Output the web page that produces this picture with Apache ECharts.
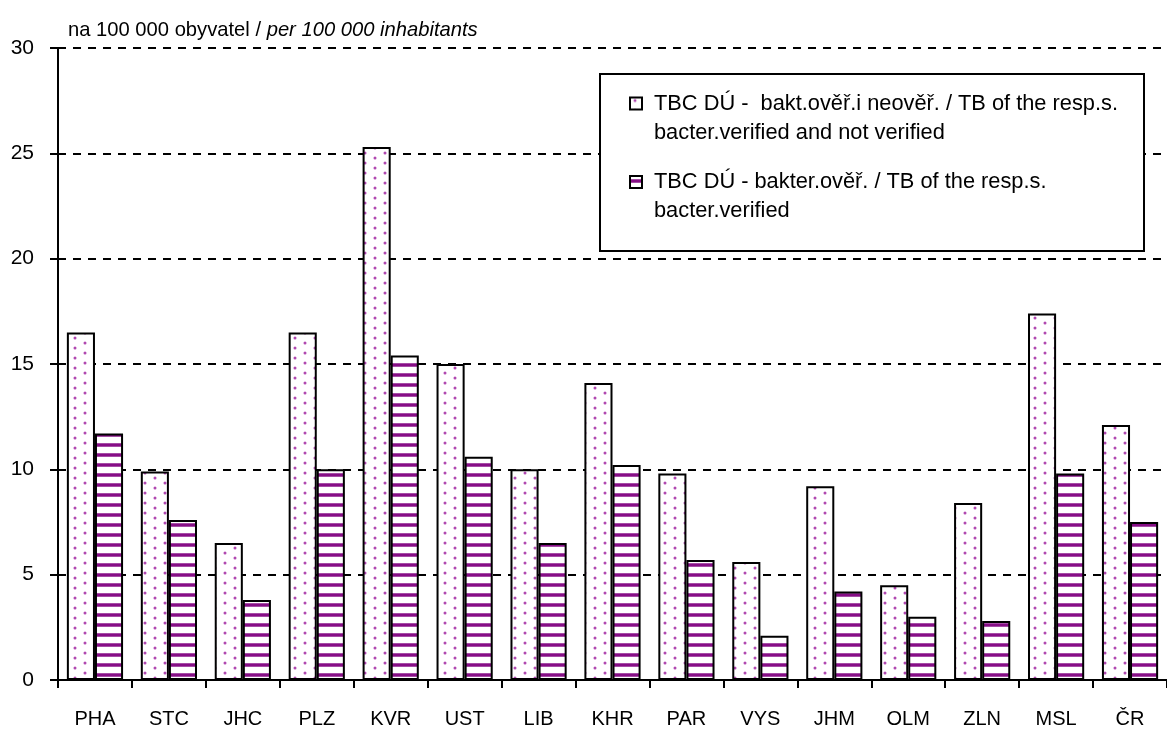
<!DOCTYPE html>
<html>
<head>
<meta charset="utf-8">
<script src="https://cdn.jsdelivr.net/npm/echarts@6/dist/echarts.min.js"></script>
<style>
html,body{margin:0;padding:0;background:#fff;}
#c{width:1167px;height:731px;}
</style>
</head>
<body>
<div id="c"></div>
<script>
const categories = ['PHA','STC','JHC','PLZ','KVR','UST','LIB','KHR','PAR','VYS','JHM','OLM','ZLN','MSL','ČR'];
const allCases = [16.5, 9.9, 6.5, 16.5, 25.3, 15.0, 10.0, 14.1, 9.8, 5.6, 9.2, 4.5, 8.4, 17.4, 12.1];
const verified = [11.7, 7.6, 3.8, 10.0, 15.4, 10.6, 6.5, 10.2, 5.7, 2.1, 4.2, 3.0, 2.8, 9.8, 7.5];
const seriesNames = [
  'TBC DÚ -  bakt.ověř.i neověř. / TB of the resp.s.\nbacter.verified and not verified',
  'TBC DÚ - bakter.ověř. / TB of the resp.s.\nbacter.verified'
];
const yTicks = { min: 0, max: 30, interval: 5 };
const titleParts = ['na 100 000 obyvatel / ', 'per 100 000 inhabitants'];

const FONT = "'Liberation Sans', Arial, sans-serif";

function dotPattern() {
  const c = document.createElement('canvas');
  c.width = 20; c.height = 10;
  const g = c.getContext('2d');
  g.fillStyle = '#ffffff';
  g.fillRect(0, 0, 20, 10);
  g.fillStyle = '#b048b0';
  g.beginPath(); g.arc(5, 3, 1.5, 0, Math.PI * 2); g.fill();
  g.beginPath(); g.arc(15, 8, 1.5, 0, Math.PI * 2); g.fill();
  return c;
}
function stripePattern() {
  const c = document.createElement('canvas');
  c.width = 10; c.height = 10;
  const g = c.getContext('2d');
  g.fillStyle = '#ffffff';
  g.fillRect(0, 0, 10, 10);
  g.fillStyle = '#c78cc7';
  g.fillRect(0, 3, 10, 4);
  g.fillStyle = '#860e86';
  g.fillRect(0, 3.5, 10, 3);
  return c;
}

const chart = echarts.init(document.getElementById('c'), null, { renderer: 'canvas' });

const legendCommon = {
  orient: 'vertical',
  left: 629,
  padding: 0,
  icon: 'rect',
  itemWidth: 12,
  itemHeight: 12,
  z: 20,
  formatter: function (name) { return ' \n' + name; },
  textStyle: {
    fontFamily: FONT,
    fontSize: 21.8,
    color: '#000',
    lineHeight: 29,
    padding: [0, 0, 0, 7]
  }
};

chart.setOption({
  animation: false,
  backgroundColor: '#fff',
  title: {
    text: '{a|' + titleParts[0] + '}{b|' + titleParts[1] + '}',
    left: 68,
    top: 20,
    padding: 0,
    textStyle: {
      fontWeight: 'normal',
      rich: {
        a: { fontFamily: FONT, fontSize: 20.2, color: '#000', fontWeight: 'normal' },
        b: { fontFamily: FONT, fontSize: 20.2, color: '#000', fontWeight: 'normal', fontStyle: 'italic' }
      }
    }
  },
  grid: { left: 58, top: 48, width: 1110, height: 632, containLabel: false },
  legend: [
    Object.assign({}, legendCommon, { top: 60, data: [seriesNames[0]] }),
    Object.assign({}, legendCommon, { top: 138.5, data: [seriesNames[1]] })
  ],
  graphic: [{
    type: 'rect',
    z: 15,
    shape: { x: 600, y: 74, width: 544, height: 177 },
    style: { fill: '#fff', stroke: '#000', lineWidth: 2 }
  }],
  xAxis: {
    type: 'category',
    data: categories,
    axisLine: { lineStyle: { color: '#000', width: 2 } },
    axisTick: { show: true, length: 8, lineStyle: { color: '#000', width: 2 } },
    axisLabel: { color: '#000', fontFamily: FONT, fontSize: 20, margin: 29 },
    splitLine: { show: false }
  },
  yAxis: {
    type: 'value',
    min: yTicks.min, max: yTicks.max, interval: yTicks.interval,
    axisLine: { show: true, lineStyle: { color: '#000', width: 2 } },
    axisTick: { show: true, length: 8, lineStyle: { color: '#000', width: 2 } },
    axisLabel: { color: '#000', fontFamily: FONT, fontSize: 21, margin: 24 },
    splitLine: { show: true, lineStyle: { color: '#000', width: 2, type: [8, 7] } }
  },
  series: [
    {
      name: seriesNames[0],
      type: 'bar',
      data: allCases,
      barGap: '0%',
      barCategoryGap: '24%',
      itemStyle: {
        color: { image: dotPattern(), repeat: 'repeat' },
        borderColor: '#000',
        borderWidth: 2
      }
    },
    {
      name: seriesNames[1],
      type: 'bar',
      data: verified,
      barGap: '0%',
      barCategoryGap: '24%',
      itemStyle: {
        color: { image: stripePattern(), repeat: 'repeat' },
        borderColor: '#000',
        borderWidth: 2
      }
    }
  ]
});
</script>
</body>
</html>
